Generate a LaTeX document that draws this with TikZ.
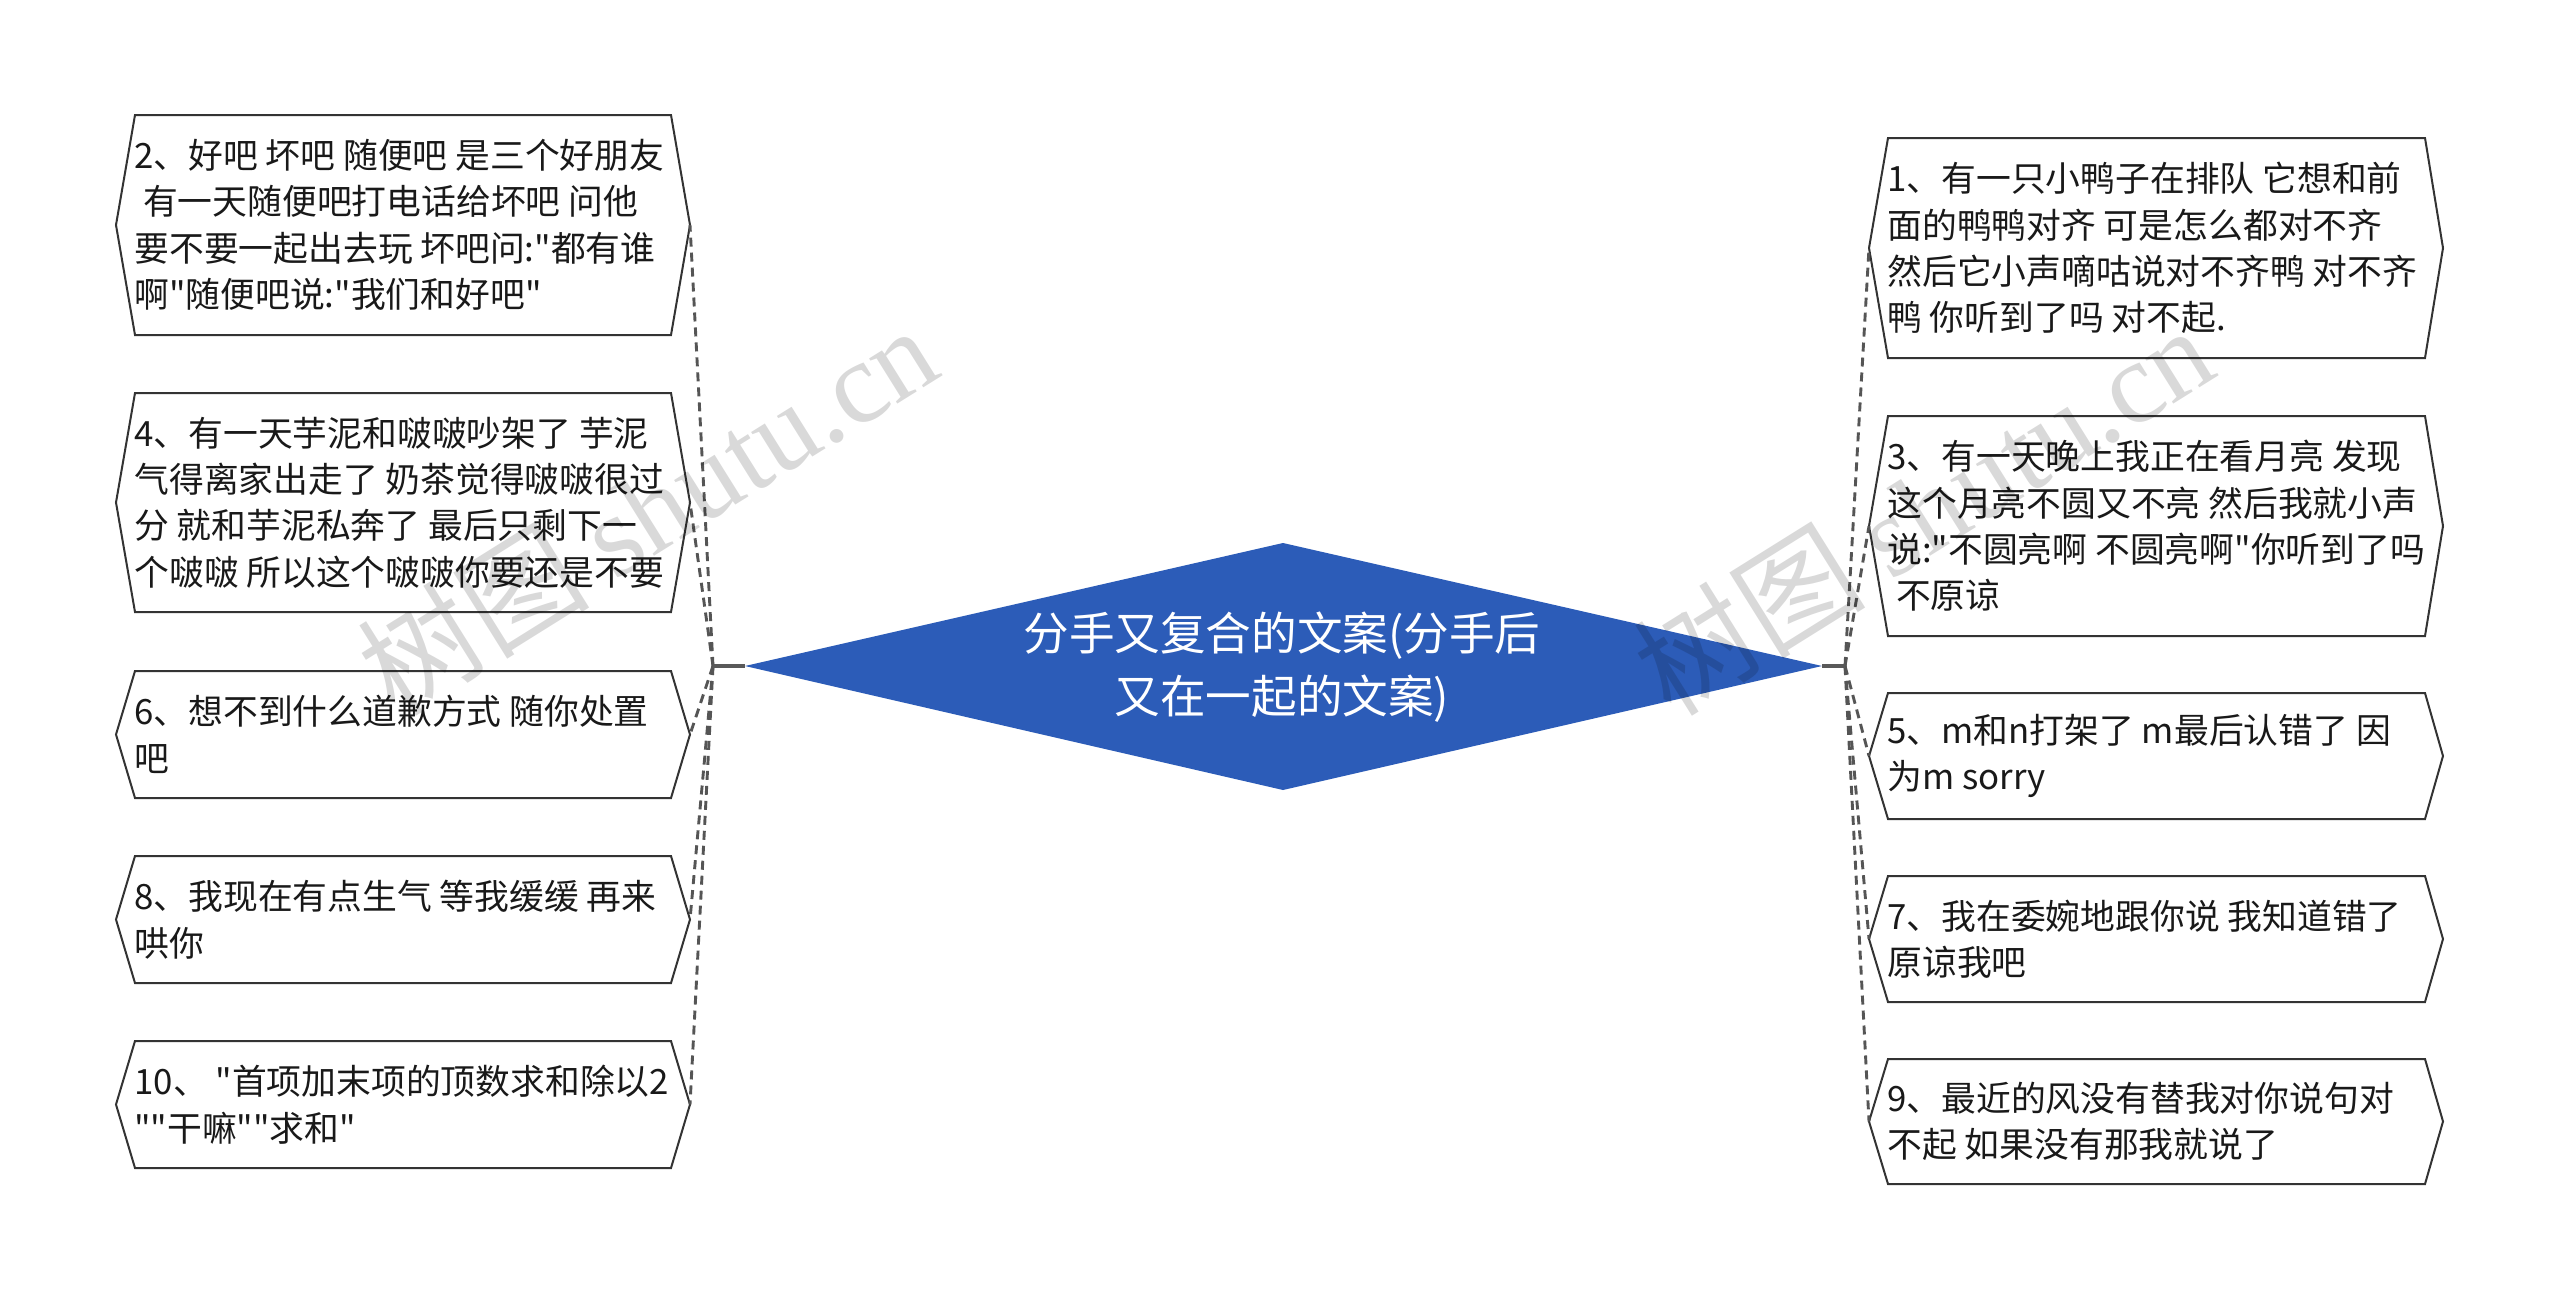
\documentclass[tikz,border=0pt]{standalone}
\usepackage{fontspec}
\setmainfont{Noto Sans CJK SC}[Ligatures=TeXOff]
\newfontfamily\wmlatin{Liberation Serif}
\usetikzlibrary{calc}
\definecolor{mainblue}{HTML}{2C5CB8}
\definecolor{linegray}{HTML}{555555}
\definecolor{boxline}{HTML}{333333}
\newcommand{\hexbox}[8]{%
  \draw[boxshape] (#3,#6) -- (#4,#6) -- (#5,#8) -- (#4,#7) -- (#3,#7) -- (#2,#8) -- cycle;
  \coordinate (#1-w) at (#2,#8);
  \coordinate (#1-e) at (#5,#8);
}
\begin{document}
\begin{tikzpicture}[x=0.5pt,y=-0.5pt,
  boxshape/.style={draw=boxline, line width=1pt, fill=white, line join=miter},
  boxtext/.style={anchor=west, align=left, inner sep=0pt, font=\fontsize{17.4}{23.2}\selectfont, text=black!90},
  link/.style={draw=linegray, line width=1.45pt, dash pattern=on 4.5pt off 3pt},
  stub/.style={draw=black!65, line width=1.6pt},
  wm/.style={rotate=32, text=black, text opacity=0.15, font=\fontsize{58}{58}\selectfont, inner sep=0pt}
]
\useasboundingbox[fill=white] (0,0) rectangle (2560,1307);

% central diamond
\fill[mainblue] (745,666) -- (1283,543) -- (1822,666) -- (1283,790) -- cycle;
\coordinate (root-w) at (745,666);
\coordinate (root-e) at (1822,666);
\node[text=white, align=center, inner sep=0pt, font=\fontsize{22.8}{31.5}\selectfont] (root) at (1282,667) {分手又复合的文案(分手后\\又在一起的文案)};

\coordinate (jl) at (713,666);
\coordinate (jr) at (1845,666);

% left boxes
\hexbox{b2}{116}{135}{671}{690}{115}{335}{225}
\node[boxtext] (t2) at (134,225) {2、好吧 坏吧 随便吧 是三个好朋友\\\hspace*{0.25em}有一天随便吧打电话给坏吧 问他\\要不要一起出去玩 坏吧问:"都有谁\\啊"随便吧说:"我们和好吧"};
\hexbox{b4}{116}{135}{671}{690}{393}{612}{502.5}
\node[boxtext] (t4) at (134,502.5) {4、有一天芋泥和啵啵吵架了 芋泥\\气得离家出走了 奶茶觉得啵啵很过\\分 就和芋泥私奔了 最后只剩下一\\个啵啵 所以这个啵啵你要还是不要};
\hexbox{b6}{116}{135}{671}{690}{671}{798}{734.5}
\node[boxtext] (t6) at (134,734.5) {6、想不到什么道歉方式 随你处置\\吧};
\hexbox{b8}{116}{135}{671}{690}{856}{983}{919.5}
\node[boxtext] (t8) at (134,919.5) {8、我现在有点生气 等我缓缓 再来\\哄你};
\hexbox{b10}{116}{135}{671}{690}{1041}{1168}{1104.5}
\node[boxtext] (t10) at (134,1104.5) {10、 "首项加末项的顶数求和除以2\\""干嘛""求和"};

% right boxes
\hexbox{b1}{1869}{1888}{2425}{2443}{138}{358}{248}
\node[boxtext] (t1) at (1887,248) {1、有一只小鸭子在排队 它想和前\\面的鸭鸭对齐 可是怎么都对不齐\\然后它小声嘀咕说对不齐鸭 对不齐\\鸭 你听到了吗 对不起.};
\hexbox{b3}{1869}{1888}{2425}{2443}{416}{636}{526}
\node[boxtext] (t3) at (1887,526) {3、有一天晚上我正在看月亮 发现\\这个月亮不圆又不亮 然后我就小声\\说:"不圆亮啊 不圆亮啊"你听到了吗\\\hspace*{0.25em}不原谅};
\hexbox{b5}{1869}{1888}{2425}{2443}{693}{819}{756}
\node[boxtext] (t5) at (1887,756) {5、m和n打架了 m最后认错了 因\\为m sorry};
\hexbox{b7}{1869}{1888}{2425}{2443}{876}{1002}{939}
\node[boxtext] (t7) at (1887,939) {7、我在委婉地跟你说 我知道错了\\原谅我吧};
\hexbox{b9}{1869}{1888}{2425}{2443}{1059}{1184}{1121.5}
\node[boxtext] (t9) at (1887,1121.5) {9、最近的风没有替我对你说句对\\不起 如果没有那我就说了};

% connectors
\foreach \b in {b2,b4,b6,b8,b10} \draw[link] (jl) -- (\b-e);
\foreach \b in {b1,b3,b5,b7,b9} \draw[link] (jr) -- (\b-w);
\draw[stub] (jl) -- (root-w);
\draw[stub] (root-e) -- (jr);

% watermarks
\node[wm] (wm1) at (647,509) {树图 {\wmlatin shutu.cn}};
\node[wm] (wm2) at (1923,509) {树图 {\wmlatin shutu.cn}};
\end{tikzpicture}
\end{document}
